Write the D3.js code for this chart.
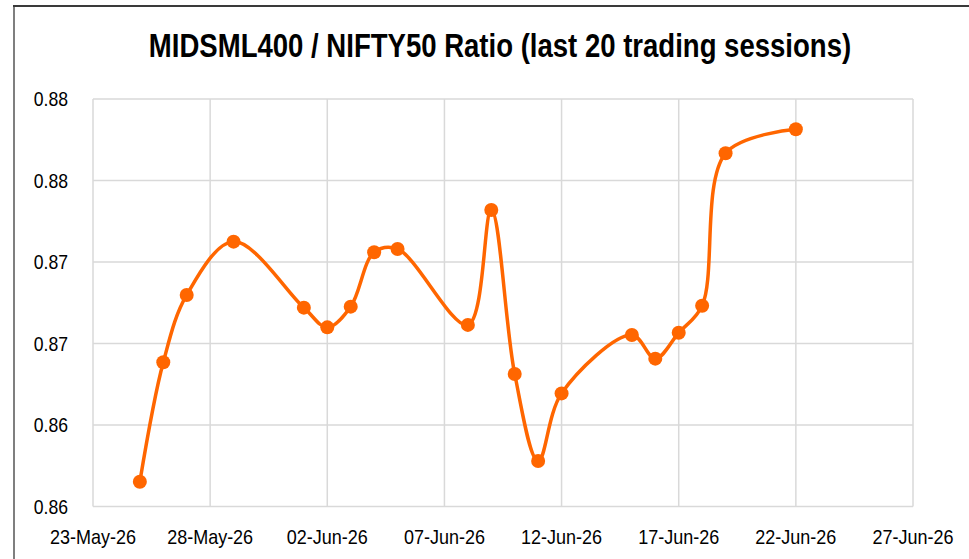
<!DOCTYPE html>
<html>
<head>
<meta charset="utf-8">
<script src="https://cdn.jsdelivr.net/npm/d3@7"></script>
<style>
  body { margin: 0; background: #fff; }
  #display { width: 969px; height: 559px; }
  text { font-family: "Liberation Sans", Arial, sans-serif; fill: #000; }
</style>
</head>
<body>
<div id="display"></div>
<script>
// session dates and ratio values
var dates = ["2026-05-25", "2026-05-26", "2026-05-27", "2026-05-29", "2026-06-01",
             "2026-06-02", "2026-06-03", "2026-06-04", "2026-06-05", "2026-06-08",
             "2026-06-09", "2026-06-10", "2026-06-11", "2026-06-12", "2026-06-15",
             "2026-06-16", "2026-06-17", "2026-06-18", "2026-06-19", "2026-06-22"]
var ratio = [0.85652, 0.86385, 0.86798, 0.87125, 0.86720,
             0.86599, 0.86726, 0.87060, 0.87080, 0.86614,
             0.87319, 0.86313, 0.85779, 0.86194, 0.86552,
             0.86407, 0.86566, 0.86732, 0.87667, 0.87814]

var xTicks = ["2026-05-23", "2026-05-28", "2026-06-02", "2026-06-07",
              "2026-06-12", "2026-06-17", "2026-06-22", "2026-06-27"]
var yTicks = [0.855, 0.86, 0.865, 0.87, 0.875, 0.88]
var yTickLabels = ["0.86", "0.86", "0.87", "0.87", "0.88", "0.88"]

var title = "MIDSML400 / NIFTY50 Ratio (last 20 trading sessions)"

var width = 969, height = 559;
var margin = {left: 93, right: 56, top: 99, bottom: 52.5};
var parse = d3.timeParse("%Y-%m-%d");
var fmt = d3.timeFormat("%d-%b-%y");

var data = dates.map((d, i) => ({date: parse(d), value: ratio[i]}));

var x = d3.scaleTime()
    .domain([parse(xTicks[0]), parse(xTicks[xTicks.length - 1])])
    .range([margin.left, width - margin.right]);

var y = d3.scaleLinear()
    .domain([yTicks[0], yTicks[yTicks.length - 1]])
    .range([height - margin.bottom, margin.top]);

var svg = d3.select("#display")
    .append("svg")
    .attr("width", width)
    .attr("height", height);

// partial chart frame
svg.append("line")
    .attr("x1", 14).attr("x2", 14).attr("y1", 6).attr("y2", height)
    .attr("stroke", "#7f7f7f").attr("stroke-width", 2);
svg.append("line")
    .attr("x1", 13).attr("x2", width).attr("y1", 6).attr("y2", 6)
    .attr("stroke", "#3a3a3a").attr("stroke-width", 2);

// narrow-looking text: horizontal squeeze around the anchor point
svg.append("text")
    .attr("transform", "translate(500,57) scale(0.835,1)")
    .attr("text-anchor", "middle")
    .style("font-size", "33px")
    .style("font-weight", "bold")
    .text(title);

// grid
svg.append("g")
    .attr("stroke", "#d9d9d9")
    .attr("stroke-width", 1.5)
  .selectAll("line")
  .data(yTicks)
  .join("line")
    .attr("x1", margin.left).attr("x2", width - margin.right)
    .attr("y1", d => y(d)).attr("y2", d => y(d));

svg.append("g")
    .attr("stroke", "#d9d9d9")
    .attr("stroke-width", 1.5)
  .selectAll("line")
  .data(xTicks)
  .join("line")
    .attr("x1", d => x(parse(d))).attr("x2", d => x(parse(d)))
    .attr("y1", margin.top).attr("y2", height - margin.bottom);

// axis labels
svg.append("g")
    .attr("text-anchor", "end")
    .style("font-size", "20px")
  .selectAll("text")
  .data(yTicks)
  .join("text")
    .attr("transform", d => `translate(${margin.left - 25},${y(d)}) scale(0.88,1)`)
    .attr("dy", "0.35em")
    .text((d, i) => yTickLabels[i]);

svg.append("g")
    .attr("text-anchor", "middle")
    .style("font-size", "20px")
  .selectAll("text")
  .data(xTicks)
  .join("text")
    .attr("transform", d => `translate(${x(parse(d))},${height - margin.bottom + 37}) scale(0.9,1)`)
    .text(d => fmt(parse(d)));

var line = d3.line()
    .x(d => x(d.date))
    .y(d => y(d.value))
    .curve(d3.curveCatmullRom.alpha(0.5));

svg.append("path")
    .datum(data)
    .attr("fill", "none")
    .attr("stroke", "#ff6600")
    .attr("stroke-width", 3.5)
    .attr("d", line);

svg.append("g")
    .attr("fill", "#ff6600")
  .selectAll("circle")
  .data(data)
  .join("circle")
    .attr("cx", d => x(d.date))
    .attr("cy", d => y(d.value))
    .attr("r", 7);
</script>
</body>
</html>
